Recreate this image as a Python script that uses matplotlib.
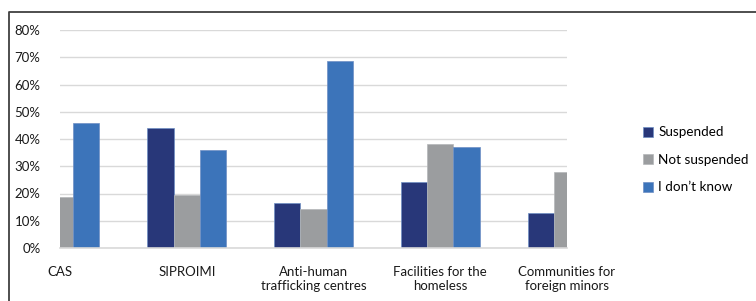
import numpy as np
import matplotlib
matplotlib.use("Agg")
import matplotlib.pyplot as plt
from matplotlib.lines import Line2D
from matplotlib.ticker import FuncFormatter

plt.rcParams['font.family'] = ['Lato', 'DejaVu Sans']

categories = ['CAS', 'SIPROIMI', 'Anti-human\ntrafficking centres',
              'Facilities for the\nhomeless', 'Communities for\nforeign minors']
series_names = ['Suspended', 'Not suspended', 'I don\u2019t know']
# values in %, bars falling outside the visible range are unknown
suspended = [np.nan, 44.2, 16.6, 24.1, 12.7]
not_suspended = [18.8, 19.3, 14.4, 38.3, 27.9]
dont_know = [45.8, 36.0, 68.5, 37.2, np.nan]
colors = ['#283779', '#9b9d9f', '#3c74ba']

fig = plt.figure(figsize=(7.56, 3.01), dpi=100)
fig.patch.set_facecolor('white')

ax = fig.add_axes([60/756, 1-248/301, (567-60)/756, (248-30)/301])

x = np.arange(len(categories))
w = 0.207
for i, (vals, c, name) in enumerate(zip([suspended, not_suspended, dont_know], colors, series_names)):
    v = np.nan_to_num(np.array(vals, dtype=float))
    ax.bar(x + (i-1)*w, v, width=w, color=c, edgecolor='#6e8fc4' if i != 1 else '#b5b7b9',
           linewidth=0.5, label=name, zorder=3)

ax.set_xlim(0, 4)
ax.set_ylim(0, 80)
ax.set_yticks(np.arange(0, 81, 10))
ax.yaxis.set_major_formatter(FuncFormatter(lambda v, p: f'{v:.0f}%'))
ax.set_xticks(x)
ax.set_xticklabels(categories)
ax.grid(axis='y', color='#d9d9d9', linewidth=1, zorder=0)
for s in ax.spines.values():
    s.set_visible(False)
ax.axhline(0, color='#d9d9d9', linewidth=1.2, zorder=4, clip_on=False)
ax.tick_params(axis='both', length=0, labelsize=9.5, colors='#1a1a1a')
ax.tick_params(axis='x', pad=13)
ax.tick_params(axis='y', pad=14)

fig.legend(loc='upper left', bbox_to_anchor=(638/756, 1-121/301), frameon=False,
           fontsize=9.7, handlelength=0.75, handleheight=0.75, handletextpad=0.35,
           labelspacing=1.15, borderaxespad=0)

# outer frame (left and top edges)
fig.add_artist(Line2D([9/756, 9/756, 1], [0, 1-12/301, 1-12/301],
                      transform=fig.transFigure, color='#404040', linewidth=1.3))

fig.savefig('out.png', dpi=100, facecolor='white')
